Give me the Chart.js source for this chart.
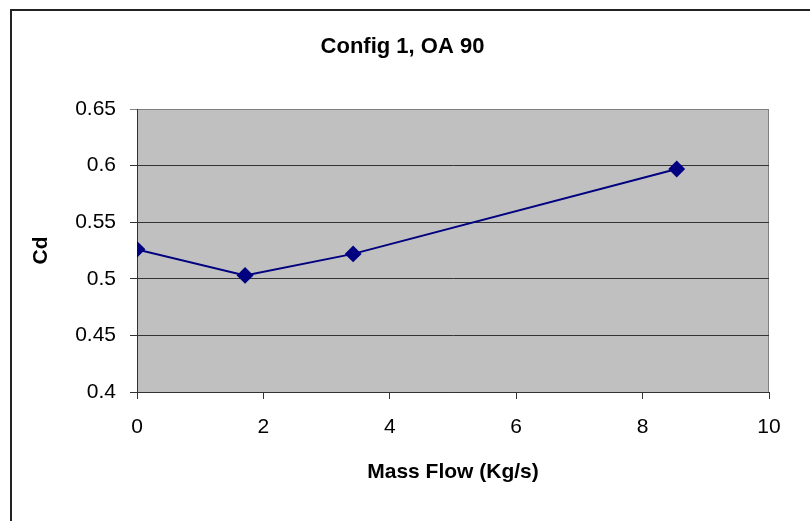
<!DOCTYPE html>
<html>
<head>
<meta charset="utf-8">
<title>Config 1, OA 90</title>
<script src="https://cdn.jsdelivr.net/npm/chart.js@4.4.1/dist/chart.umd.min.js"></script>
<style>
    html, body { margin: 0; padding: 0; background: #fff; }
    canvas { display: block; }
</style>
</head>
<body>
<canvas id="cdChart" width="810" height="521"></canvas>
<script>
"use strict";

// measured points
const massFlow = [0, 1.71, 3.42, 8.54];
const cdValues = [0.526, 0.503, 0.522, 0.597];

// axis ticks
const xTicks = [0, 2, 4, 6, 8, 10];
const yTicks = [0.4, 0.45, 0.5, 0.55, 0.6, 0.65];

(function() {
    // grey plot background, its top/right edge and the outer frame
    const plotFrame = {
        id: "plotFrame",
        beforeDraw(chart) {
            const { ctx, chartArea: a } = chart;
            ctx.save();
            ctx.fillStyle = "#c0c0c0";
            ctx.fillRect(a.left, a.top, a.right - a.left, a.bottom - a.top);
            ctx.strokeStyle = "#808080";
            ctx.lineWidth = 1;
            ctx.beginPath();
            ctx.moveTo(a.left, a.top + 0.5);
            ctx.lineTo(a.right - 0.5, a.top + 0.5);
            ctx.lineTo(a.right - 0.5, a.bottom);
            ctx.stroke();
            ctx.strokeStyle = "#222";
            ctx.lineWidth = 2;
            ctx.beginPath();
            ctx.moveTo(11, chart.height);
            ctx.lineTo(11, 10);
            ctx.lineTo(chart.width, 10);
            ctx.stroke();
            ctx.restore();
        }
    };

    function Start() {
        Chart.defaults.font.family = "'Liberation Sans', Arial, sans-serif";
        Chart.defaults.color = "#000";

        let option = document.getElementById("cdChart").getContext("2d");
        let chart = new Chart(option, {
            type: "scatter",
            data: {
                datasets: [{
                    label: "Cd",
                    data: massFlow.map((x, i) => ({ x: x, y: cdValues[i] })),
                    showLine: true,
                    borderColor: "#000080",
                    backgroundColor: "#000080",
                    borderWidth: 2,
                    pointStyle: "rectRot",
                    pointRadius: 7,
                    pointHoverRadius: 7,
                }],
            },
            options: {
                responsive: false,
                animation: false,
                devicePixelRatio: 1,
                layout: { padding: { left: 36, top: 0, right: 41, bottom: 0 } },
                plugins: {
                    legend: { display: false },
                    tooltip: { enabled: false },
                    title: {
                        display: true,
                        text: "Config 1, OA 90",
                        font: { size: 22, weight: "bold" },
                        padding: { top: 34, bottom: 48.6 },
                    },
                },
                scales: {
                    x: {
                        type: "linear",
                        min: 0,
                        max: 10,
                        afterBuildTicks: (scale) => { scale.ticks = xTicks.map(v => ({ value: v })); },
                        afterFit: (scale) => { scale.height = 129; },
                        ticks: { font: { size: 21 }, padding: 16 },
                        grid: { drawOnChartArea: false, tickLength: 7, color: "#333" },
                        border: { color: "#333", width: 1 },
                        title: {
                            display: true,
                            text: "Mass Flow (Kg/s)",
                            font: { size: 21, weight: "bold" },
                            padding: { top: 0, bottom: 36 },
                        },
                    },
                    y: {
                        type: "linear",
                        min: 0.4,
                        max: 0.65,
                        afterBuildTicks: (scale) => { scale.ticks = yTicks.map(v => ({ value: v })); },
                        afterFit: (scale) => { scale.width = 101; },
                        ticks: {
                            font: { size: 21 },
                            padding: 14,
                            callback: (v) => String(v),
                        },
                        grid: {
                            tickLength: 7,
                            color: (c) => (c.tick && c.tick.value === 0.65 ? "#808080" : "#333"),
                        },
                        border: { color: "#333", width: 1 },
                        title: {
                            display: true,
                            text: "Cd",
                            font: { size: 21, weight: "bold" },
                            padding: { top: -7.6, bottom: 0 },
                        },
                    },
                },
            },
            plugins: [plotFrame],
        });
    }

    window.addEventListener("load", Start);
})();
</script>
</body>
</html>
